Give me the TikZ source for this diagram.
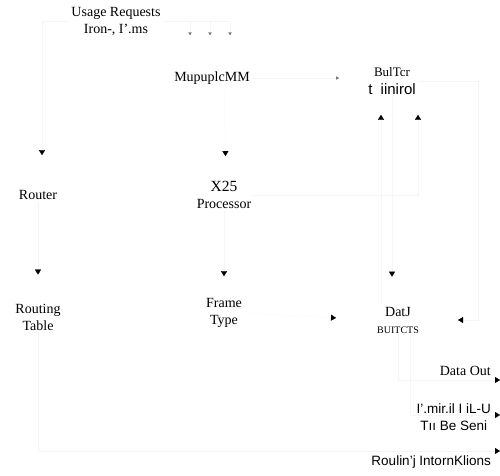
\documentclass[tikz,border=0pt]{standalone}
\usepackage{fontspec}
\setmainfont{Liberation Serif}
\setsansfont{Liberation Sans}
\usetikzlibrary{arrows.meta}

\begin{document}
\begin{tikzpicture}[
  x=1pt, y=-1pt,
  lbl/.style = {inner sep=2pt, align=center, font=\fontsize{14}{17}\selectfont},
  sans/.style = {lbl, font=\sffamily\fontsize{13.5}{17}\selectfont},
  arr/.style = {-{Triangle[length=5pt, width=6pt, color=black]}, draw=black!4, line width=0.2pt},
  tinyarr/.style = {-{Triangle[length=3pt, width=3pt, color=black!55]}, draw=black!4, line width=0.2pt}
]
\useasboundingbox (0,0) rectangle (500,475);

\node[lbl] (usage) at (116,21) {Usage Requests\\Iron-, I'.ms};
\node[lbl] (mm) at (212,78) {MupuplcMM};
\node[lbl, font=\fontsize{13}{15}\selectfont] (ctrl) at (392,81)
  {BulTcr\\[3pt]{\sffamily\fontsize{15}{17}\selectfont t\ \ iinirol}};
\node[lbl] (router) at (38,195) {Router};
\node[lbl] (x25) at (224,195) {{\fontsize{15.5}{17}\selectfont X25}\\Processor};
\node[lbl] (rtable) at (38,317) {Routing\\Table};
\node[lbl] (ftype) at (224,313) {Frame\\Type};
\node[lbl] (data) at (398,320) {DatJ\\{\fontsize{10}{12}\selectfont BUITCTS}};

\node[lbl, anchor=east] (dout) at (493,371) {Data Out};
\node[sans, anchor=east] (partial) at (493,417) {I'.mir.il I iL-U\\Tıı Be Seni};
\node[sans, anchor=east] (rinfo) at (493,462) {Roulin'j IntornKlions};

\coordinate (outA) at (500,380);
\coordinate (outB) at (500,415);
\coordinate (outC) at (500,451);

\foreach \dx in {-22,-2,18}
  \draw[tinyarr, shorten >=34pt] (usage.east) -| ([xshift=\dx pt]mm.north);
\draw[tinyarr, shorten >=27pt] (mm.east) -- (ctrl.west |- mm.east);

\draw[arr, shorten >=33pt] (usage.west) -| ([xshift=4pt]router.north);
\draw[arr, shorten >=23pt] (x25.north |- mm.south) -- ([xshift=2pt]x25.north);
\draw[arr, shorten >=27pt] (router.south) -- (rtable.north);
\draw[arr, shorten >=20pt] (x25.south) -- (ftype.north);
\draw[arr, shorten >=39pt] (ftype.east) -- (data.west);
\draw[arr, shorten >=37pt] (ctrl.east) -- ++(60,0) |- (data.east);
\draw[arr, shorten >=28pt] (ctrl.south) -- (ctrl.south |- data.north);
\draw[arr, shorten >=18pt] ([xshift=-17pt]data.north) -- ([xshift=-11pt]ctrl.south);
\draw[arr, shorten >=18pt] (x25.east) -| ([xshift=26pt]ctrl.south);

\draw[arr] (data.south) |- (outA);
\draw[arr] ([xshift=12pt]data.south) |- (outB);
\draw[arr] (rtable.south) |- (outC);

\end{tikzpicture}
\end{document}
